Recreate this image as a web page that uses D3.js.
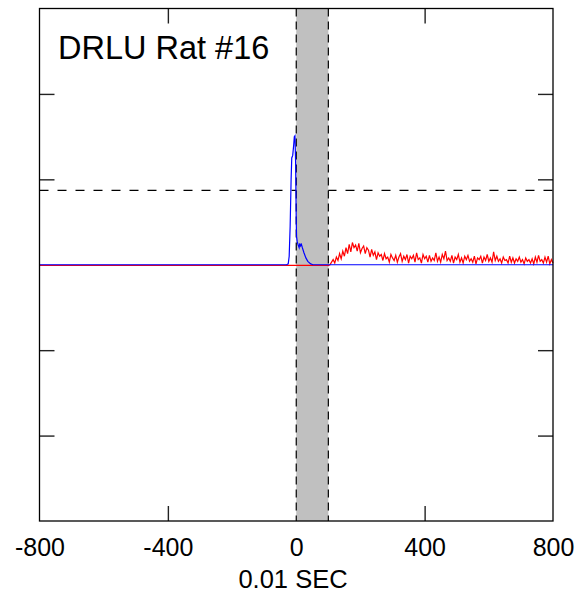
<!DOCTYPE html>
<html>
<head>
<meta charset="utf-8">
<script src="https://cdn.jsdelivr.net/npm/d3@7"></script>
<style>
  body { margin: 0; background: #fff; }
  text { font-family: "Liberation Sans", Arial, sans-serif; }
</style>
</head>
<body>
<div id="chart"></div>
<script>
// chart frame
width = 586;
height = 598;
margin = ({top: 8.5, right: 33, bottom: 77, left: 39.5});

// axis ticks and labels
xTicks = [-800, -400, 0, 400, 800];
yTicks = [-2, -1, 0, 1, 2];
titleText = "DRLU Rat #16";
xLabel = "0.01 SEC";

// stimulus window and threshold
bandStart = 0;
bandEnd = 100;
threshold = 0.87;

// blue trace [time, value]
blueTrace = [
  [-800, 0], [-30, 0], [-25, 0.01], [-22, 0.1], [-19, 0.45], [-16, 1.0],
  [-14, 1.25], [-11, 1.28], [-8, 1.4], [-6, 1.5], [-4, 1.51], [-2, 1.2],
  [0, 0.5], [1, 0.33], [3, 0.27], [6, 0.23], [9, 0.2], [11, 0.25],
  [13, 0.22], [16, 0.24], [19, 0.2], [24, 0.14], [30, 0.08], [36, 0.04],
  [45, 0.01], [52, 0], [800, 0]
];

// red trace: flat part, then noisy part sampled every 5 units from 100
redFlat = [[-800, -0.007], [100, -0.007]];
redStart = 100;
redStep = 5;
redValues = [
  -0.01, 0.00, 0.03, 0.06, 0.02, 0.09, 0.05, 0.13, 0.07, 0.16,
  0.10, 0.20, 0.13, 0.24, 0.15, 0.26, 0.20, 0.23, 0.16, 0.25,
  0.14, 0.19, 0.22, 0.13, 0.20, 0.17, 0.09, 0.18, 0.11, 0.15,
  0.06, 0.14, 0.10, 0.12, 0.05, 0.13, 0.07, 0.09, 0.03, 0.12,
  0.08, 0.05, 0.11, 0.03, 0.09, 0.13, 0.04, 0.10, 0.06, 0.12,
  0.02, 0.10, 0.07, 0.11, 0.03, 0.14, 0.06, 0.08, 0.02, 0.12,
  0.07, 0.10, 0.03, 0.11, 0.04, 0.08, 0.05, 0.14, 0.04, 0.09,
  0.03, 0.12, 0.07, 0.16, 0.05, 0.08, 0.04, 0.11, 0.02, 0.09,
  0.06, 0.12, 0.03, 0.08, 0.02, 0.10, 0.06, 0.11, 0.04, 0.07,
  0.03, 0.10, 0.01, 0.08, 0.06, 0.10, 0.02, 0.09, 0.05, 0.12,
  0.04, 0.08, 0.03, 0.15, 0.05, 0.10, 0.04, 0.07, 0.02, 0.09,
  0.05, 0.06, 0.02, 0.10, 0.03, 0.08, 0.02, 0.07, 0.04, 0.09,
  0.03, 0.06, 0.01, 0.08, 0.04, 0.06, 0.02, 0.07, 0.01, 0.09,
  0.03, 0.11, 0.04, 0.06, 0.02, 0.09, 0.03, 0.10, 0.01, 0.06,
  0.02
];
redTrace = redFlat.concat(redValues.map((v, i) => [redStart + i * redStep, v]));

// scales
let xScale = d3.scaleLinear()
    .domain([-800, 800])
    .range([margin.left, width - margin.right]);
let yScale = d3.scaleLinear()
    .domain([-3, 3])
    .range([height - margin.bottom, margin.top]);

let svg = d3.select("#chart").append("svg")
    .attr("width", width).attr("height", height);

// threshold line (gray band covers it)
svg.append("line")
    .attr("x1", xScale(-800)).attr("x2", xScale(800))
    .attr("y1", yScale(threshold)).attr("y2", yScale(threshold))
    .attr("stroke", "#000").attr("stroke-width", 1.3)
    .attr("stroke-dasharray", "9,9");

// stimulus band
svg.append("rect")
    .attr("x", xScale(bandStart)).attr("width", xScale(bandEnd) - xScale(bandStart))
    .attr("y", yScale(3)).attr("height", yScale(-3) - yScale(3))
    .attr("fill", "#c0c0c0");

svg.selectAll(".vdash").data([bandStart, bandEnd]).enter().append("line")
    .attr("class", "vdash")
    .attr("x1", d => xScale(d)).attr("x2", d => xScale(d))
    .attr("y1", yScale(3)).attr("y2", yScale(-3))
    .attr("stroke", "#000").attr("stroke-width", 1.2)
    .attr("stroke-dasharray", "8,5");

// traces
let line = d3.line().x(d => xScale(d[0])).y(d => yScale(d[1]));
svg.append("path").datum(redTrace)
    .attr("d", line).attr("fill", "none")
    .attr("stroke", "#ff0000").attr("stroke-width", 1.2);
svg.append("path").datum(blueTrace)
    .attr("d", line).attr("fill", "none")
    .attr("stroke", "#0000ff").attr("stroke-width", 1.2);

// axes with inward ticks
xAxis = g => g
    .attr("transform", `translate(0,${height - margin.bottom})`)
    .call(d3.axisBottom(xScale).tickValues(xTicks).tickSize(-15).tickPadding(17)
      .tickFormat(d => String(d)));
xAxisTop = g => g
    .attr("transform", `translate(0,${margin.top})`)
    .call(d3.axisTop(xScale).tickValues([-400, 400]).tickSize(-15).tickFormat(""));
yAxis = g => g
    .attr("transform", `translate(${margin.left},0)`)
    .call(d3.axisLeft(yScale).tickValues(yTicks).tickSize(-15).tickFormat(""));
yAxisRight = g => g
    .attr("transform", `translate(${width - margin.right},0)`)
    .call(d3.axisRight(yScale).tickValues(yTicks).tickSize(-15).tickFormat(""));

[xAxis, xAxisTop, yAxis, yAxisRight].forEach(a => {
  let g = svg.append("g").call(a);
  g.select(".domain").remove();
  g.selectAll(".tick line").attr("stroke", "#222").attr("stroke-width", 1.4);
});

svg.selectAll(".tick").filter(d => d === -800 || d === 0 || d === 800)
    .select("line").remove();
svg.selectAll(".tick text")
    .attr("font-size", 25).attr("fill", "#000")
    .style("font-family", "'Liberation Sans', Arial, sans-serif");

// frame
svg.append("rect")
    .attr("x", margin.left).attr("y", margin.top)
    .attr("width", width - margin.left - margin.right)
    .attr("height", height - margin.top - margin.bottom)
    .attr("fill", "none").attr("stroke", "#000").attr("stroke-width", 1.3);

// title and axis label
svg.append("text")
    .attr("x", 58).attr("y", 58.5)
    .attr("font-size", 32.5)
    .text(titleText);

svg.append("text")
    .attr("x", 293).attr("y", 588)
    .attr("text-anchor", "middle")
    .attr("font-size", 25.5)
    .text(xLabel);
</script>
</body>
</html>
